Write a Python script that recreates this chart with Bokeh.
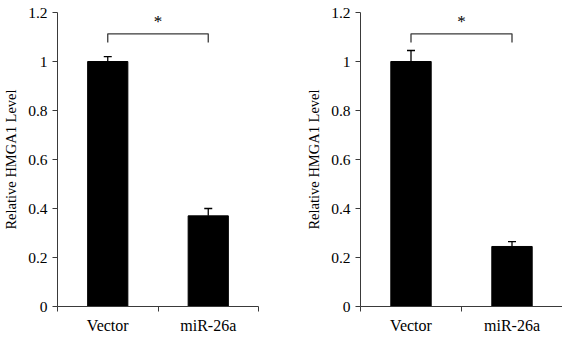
from bokeh.plotting import figure
from bokeh.layouts import row
from bokeh.models import ColumnDataSource, FixedTicker, Whisker, Range1d, Label
from bokeh.embed import file_html
from bokeh.resources import INLINE

categories = ["Vector", "miR-26a"]
left_values = [1.0, 0.37]
left_errors = [0.02, 0.03]
right_values = [1.0, 0.245]
right_errors = [0.045, 0.02]
y_ticks = [0, 0.2, 0.4, 0.6, 0.8, 1.0, 1.2]
y_tick_labels = ["0", "0.2", "0.4", "0.6", "0.8", "1", "1.2"]
sig_level = 1.113
sig_drop = 0.035
sig_mark = "*"
y_title = "Relative HMGA1 Level"

FONT = "Liberation Serif"
AX = "#3a3a3a"


def panel(values, errors, border_left, border_right):
    xs = [i + 0.5 for i in range(len(categories))]
    src = ColumnDataSource(dict(
        x=xs, top=values,
        upper=[v + e for v, e in zip(values, errors)],
    ))
    p = figure(width=281, height=338, output_backend="svg", toolbar_location=None,
               x_range=Range1d(0, len(categories)), y_range=Range1d(0, 1.2),
               min_border_left=border_left, min_border_right=border_right,
               min_border_top=12, min_border_bottom=32)
    p.outline_line_color = None
    p.grid.visible = False
    p.background_fill_color = "white"
    p.border_fill_color = "white"

    p.vbar(x="x", top="top", width=0.4, bottom=0, source=src,
           fill_color="black", line_color="black")
    w = Whisker(base="x", lower="top", upper="upper", source=src,
                line_color="black", line_width=1.3)
    w.lower_head = None
    w.upper_head.size = 8
    w.upper_head.line_color = "black"
    w.upper_head.line_width = 1.3
    p.add_layout(w)

    # significance bracket
    p.line([xs[0], xs[0], xs[1], xs[1]],
           [sig_level - sig_drop, sig_level, sig_level, sig_level - sig_drop],
           line_color=AX, line_width=1.3)
    p.add_layout(Label(x=(xs[0] + xs[1]) / 2, y=sig_level + 0.01, text=sig_mark,
                       text_font=FONT, text_font_size="17px", text_align="center",
                       text_baseline="bottom", text_color="black"))

    # x axis: boundary ticks as minor, labels at centres
    xt = FixedTicker(ticks=xs, minor_ticks=list(range(len(categories) + 1)))
    p.xaxis.ticker = xt
    p.xaxis.major_label_overrides = {x: c for x, c in zip(xs, categories)}
    p.xaxis.major_tick_out = 0
    p.xaxis.major_tick_in = 0
    p.xaxis.minor_tick_out = 5
    p.xaxis.minor_tick_in = 0
    p.xaxis.minor_tick_line_color = AX
    p.xaxis.axis_line_color = AX
    p.xaxis.major_label_text_font = FONT
    p.xaxis.major_label_text_font_size = "16px"
    p.xaxis.major_label_text_color = "black"
    p.xaxis.major_label_standoff = 5

    p.yaxis.ticker = FixedTicker(ticks=y_ticks, minor_ticks=[])
    p.yaxis.major_label_overrides = {t: l for t, l in zip(y_ticks, y_tick_labels)}
    p.yaxis.major_tick_out = 5
    p.yaxis.major_tick_in = 0
    p.yaxis.major_tick_line_color = AX
    p.yaxis.axis_line_color = AX
    p.yaxis.major_label_text_font = FONT
    p.yaxis.major_label_text_font_size = "15.5px"
    p.yaxis.major_label_text_color = "black"
    p.yaxis.major_label_standoff = 5
    p.yaxis.axis_label = y_title
    p.yaxis.axis_label_text_font = FONT
    p.yaxis.axis_label_text_font_style = "normal"
    p.yaxis.axis_label_text_font_size = "14.5px"
    p.yaxis.axis_label_text_color = "black"
    p.yaxis.axis_label_standoff = 6
    return p


p1 = panel(left_values, left_errors, 56, 23)
p2 = panel(right_values, right_errors, 79, 0)
layout = row(p1, p2, spacing=0)

open("out.html", "w").write(file_html(layout, INLINE))
